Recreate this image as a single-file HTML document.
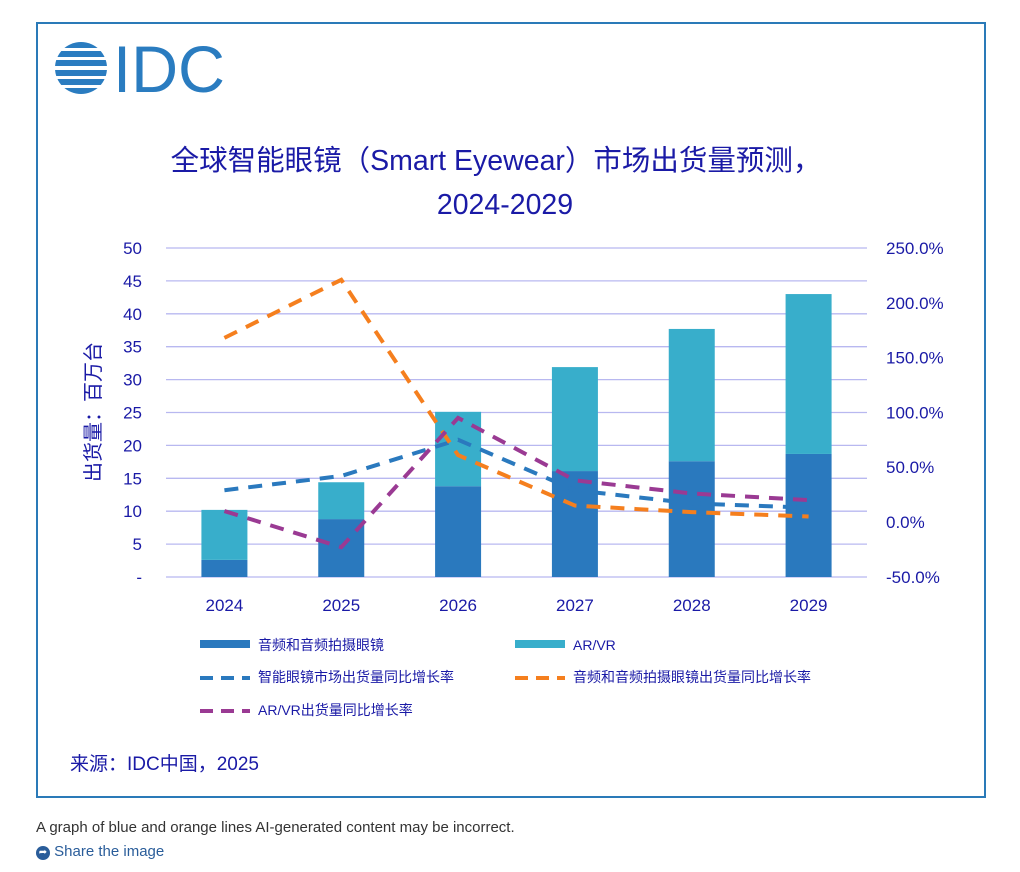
<!DOCTYPE html>
<html><head><meta charset="utf-8"><style>
body{margin:0;width:1020px;height:872px;background:#fff;font-family:"Liberation Sans","Noto Sans CJK SC",sans-serif;overflow:hidden;position:relative}
#frame{position:absolute;left:36px;top:22px;width:946px;height:772px;border:2px solid #2a7ab8}
.cap{position:absolute;left:36px;top:819px;font-size:15px;color:#333}
.share{position:absolute;left:36px;top:843px;font-size:15px;color:#2a5d9a}
</style></head><body>
<div id="frame"></div>
<svg width="1020" height="872" style="position:absolute;left:0;top:0">
<g>
<clipPath id="cc"><circle cx="81" cy="68" r="26"/></clipPath>
<g clip-path="url(#cc)" fill="#2a7cc0">
<rect x="50" y="42" width="62" height="6"/><rect x="50" y="51" width="62" height="6"/><rect x="50" y="60" width="62" height="6"/><rect x="50" y="70" width="62" height="6"/><rect x="50" y="79" width="62" height="6"/><rect x="50" y="88" width="62" height="6"/>
</g>
<text x="113" y="92" font-size="66" fill="#2a7cc0" font-family="Liberation Sans,sans-serif" textLength="112" lengthAdjust="spacingAndGlyphs">IDC</text>
</g>
<text x="496" y="170" text-anchor="middle" font-size="28.5" fill="#1a1aa6">全球智能眼镜（Smart Eyewear）市场出货量预测，</text>
<text x="505" y="214" text-anchor="middle" font-size="28.5" fill="#1a1aa6">2024-2029</text>
<g id="grid"></g><g id="bars"></g><g id="lines"></g><g id="axes"></g>
<text transform="translate(100,412) rotate(-90)" text-anchor="middle" font-size="20" fill="#1a1aa6">出货量：百万台</text>
<g font-size="14" fill="#1a1aa6">
<rect x="200" y="640" width="50" height="8" fill="#2a79be"/>
<text x="258" y="650">音频和音频拍摄眼镜</text>
<rect x="515" y="640" width="50" height="8" fill="#38aecb"/>
<text x="573" y="650">AR/VR</text>
<line x1="200" y1="678" x2="250" y2="678" stroke="#2a79be" stroke-width="4" stroke-dasharray="13,8"/>
<text x="258" y="682">智能眼镜市场出货量同比增长率</text>
<line x1="515" y1="678" x2="565" y2="678" stroke="#f57f1e" stroke-width="4" stroke-dasharray="13,8"/>
<text x="573" y="682">音频和音频拍摄眼镜出货量同比增长率</text>
<line x1="200" y1="711" x2="250" y2="711" stroke="#9a3a93" stroke-width="4" stroke-dasharray="13,8"/>
<text x="258" y="715">AR/VR出货量同比增长率</text>
</g>
<text x="70" y="770" font-size="19" fill="#1a1aa6">来源：IDC中国，2025</text>
</svg>
<div class="cap">A graph of blue and orange lines AI-generated content may be incorrect.</div>
<div class="share"><span style="display:inline-block;width:14px;height:14px;border-radius:7px;background:#2a5d9a;color:#fff;font-size:10px;text-align:center;line-height:14px;vertical-align:1px">➦</span> Share the image</div>
<script>
const years=['2024','2025','2026','2027','2028','2029'];
const audio=[2.6,8.8,13.8,16.1,17.6,18.7];
const arvr=[7.6,5.6,11.3,15.8,20.1,24.3];
const totalGrowth=[29,42,75,29,17,13];
const audioGrowth=[168,221,61,15,9,5];
const arvrGrowth=[10,-23,95,38,26,20];
const leftTicks=['-','5','10','15','20','25','30','35','40','45','50'];
const rightTicks=['-50.0%','0.0%','50.0%','100.0%','150.0%','200.0%','250.0%'];
const NS='http://www.w3.org/2000/svg';
const X0=166,X1=867,yL=v=>577-v*6.58,yR=p=>522-p*1.096;
const step=(X1-X0)/years.length,xc=i=>X0+step*(i+0.5);
function mk(t,a,p){const e=document.createElementNS(NS,t);for(const k in a)e.setAttribute(k,a[k]);p.appendChild(e);return e;}
const grid=document.getElementById('grid'),bars=document.getElementById('bars'),lines=document.getElementById('lines'),axes=document.getElementById('axes');
leftTicks.forEach((t,i)=>{const y=yL(i*5);
const l=mk('line',{x1:X0,x2:X1,y1:y,y2:y,stroke:'#b8b8f0','stroke-width':1.3},grid);


const tx=mk('text',{x:142,y:y+6,'text-anchor':'end','font-size':17,fill:'#1a1aa6'},axes);tx.textContent=t;

});
rightTicks.forEach((t,i)=>{const tx=mk('text',{x:886,y:yR(-50+i*50)+6,'font-size':17,fill:'#1a1aa6'},axes);tx.textContent=t;

});
years.forEach((yr,i)=>{const x=xc(i)-23;
const b1=mk('rect',{x:x,width:46,y:yL(audio[i]),height:yL(0)-yL(audio[i]),fill:'#2a79be'},bars);


const t=audio[i]+arvr[i];
const b2=mk('rect',{x:x,width:46,y:yL(t),height:yL(audio[i])-yL(t),fill:'#38aecb'},bars);


const tx=mk('text',{x:xc(i),y:611,'text-anchor':'middle','font-size':17,fill:'#1a1aa6'},axes);tx.textContent=yr;

});
[[totalGrowth,'#2a79be','total-growth-line'],[audioGrowth,'#f57f1e','audio-growth-line'],[arvrGrowth,'#9a3a93','arvr-growth-line']].forEach(([d,c,n])=>{
const p=mk('polyline',{points:d.map((v,i)=>xc(i)+','+yR(v)).join(' '),fill:'none',stroke:c,'stroke-width':4,'stroke-dasharray':'14,10'},lines);

});
</script>
</body></html>
